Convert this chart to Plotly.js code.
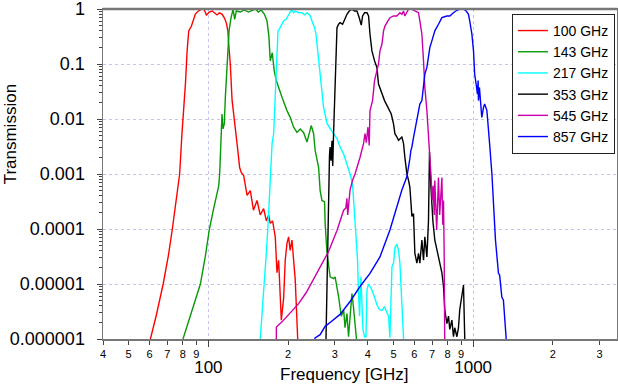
<!DOCTYPE html>
<html>
<head>
<meta charset="utf-8">
<script src="https://cdn.plot.ly/plotly-3.0.1.min.js"></script>
<style>
  html, body { margin: 0; padding: 0; background: #fff; }
  #bands { width: 618px; height: 387px; }
</style>
</head>
<body>
<div id="bands"></div>
<script>
// Planck HFI band transmissions
const f100 = [60.4, 63.6, 67.5, 70.7, 73.1, 75.5, 77.9, 79.4, 80.1, 80.8, 81.9, 83.1, 84.3, 86.3, 89.3, 91.7, 94.7, 96.6, 98.3, 100.9, 103.5, 107.8, 110, 112.6, 114.9, 116.9, 118.5, 119.5, 121, 122.9, 124.3, 125.7, 128.3, 131.3, 133.2, 135.9, 140, 144, 148, 152.7, 157, 161.7, 165.6, 168.9, 171.3, 174.8, 178.9, 181.6, 184.2, 188.6, 192.4, 195.1, 198.1, 200.9, 203.7, 206.9, 210, 212.8, 217.3, 218];
const t100 = [1e-6, 2.7e-6, 1e-5, 3.4e-5, 1e-4, 3.3e-4, 1e-3, 5e-3, 9e-3, 0.0116, 0.043, 0.17, 0.40, 0.49, 0.81, 0.92, 1.0, 0.96, 0.78, 0.88, 0.92, 0.78, 0.85, 0.81, 0.69, 0.56, 0.40, 0.21, 0.1, 0.022, 0.014, 0.01, 3.6e-3, 1.3e-3, 1.06e-3, 9.4e-4, 4.1e-4, 5e-4, 2.2e-4, 3.3e-4, 1.8e-4, 2.35e-4, 1.4e-4, 1.8e-4, 1.27e-4, 1.4e-4, 7.2e-5, 1.6e-5, 2.7e-5, 2.2e-6, 5.5e-6, 2.7e-5, 5.5e-5, 7.2e-5, 4.1e-5, 6.3e-5, 2.5e-5, 1.2e-5, 1.1e-6, 5e-7];

const f143 = [80.2, 85.5, 89.3, 93.3, 97.4, 100.9, 104.4, 107.2, 109.4, 110.3, 111.7, 112.6, 113.6, 114.9, 115.9, 117, 118.3, 119.7, 121.8, 124, 125.7, 127.5, 132, 136.7, 141.6, 146.6, 150.4, 154.4, 158.4, 162.7, 166.5, 169.2, 171.3, 174.3, 177.3, 180.5, 184.2, 189.7, 198.1, 203.7, 209.9, 216.1, 222.2, 228.8, 235.8, 240.5, 244.6, 249.7, 253, 260.8, 264.3, 268.5, 274.7, 276, 280.5, 288.2, 297, 301, 306, 310.3, 317.6, 324.2, 328.2, 333.7, 338.3, 342.8, 348.5, 353.4, 358, 365];
const t143 = [1e-6, 2.7e-6, 5.1e-6, 1e-5, 3.2e-5, 1e-4, 2.2e-4, 4.1e-4, 6.1e-4, 1e-3, 3.5e-3, 0.0123, 6.6e-3, 8.2e-3, 0.0247, 0.065, 0.2, 0.4, 0.695, 0.99, 0.65, 0.92, 0.88, 0.96, 0.88, 0.96, 1.0, 0.88, 0.96, 0.81, 0.606, 0.324, 0.114, 0.16, 0.075, 0.05, 0.036, 0.0248, 0.0142, 0.0107, 0.0071, 0.0057, 0.0066, 0.0057, 0.0038, 0.0054, 0.0076, 0.0054, 0.0027, 0.00132, 5e-4, 3.3e-4, 3.1e-4, 1.27e-4, 3.7e-5, 1.35e-5, 1.25e-5, 1.35e-5, 8.9e-6, 5.9e-6, 2.6e-6, 3.4e-6, 1.6e-6, 2.9e-6, 1.1e-6, 2.2e-6, 6.7e-6, 3.7e-6, 1.6e-6, 7e-7];

const f217 = [157, 161.3, 164.8, 167.7, 169.9, 172.4, 174, 176.4, 178.9, 181.6, 183.2, 185.3, 189.7, 192.4, 196.5, 200, 203.7, 206.9, 209.9, 212.8, 219.2, 225.8, 230.9, 235.8, 239, 242.3, 246.2, 251.8, 254.9, 258.5, 262.4, 266.3, 272.3, 280.5, 288.2, 297, 306, 314.3, 324.2, 333.7, 342.8, 350.3, 355.6, 358, 365.9, 369.1, 372.3, 376.9, 380.2, 383.4, 389, 393.7, 397.2, 402.7, 407.7, 414.7, 423.1, 433, 443, 452.4, 461.6, 469.7, 479.2, 484.9, 493.5, 500.4, 506.4, 515.3, 522.5, 528.8, 538, 545.7, 548];
const t217 = [1e-6, 5.1e-6, 2.7e-5, 1e-4, 3.3e-4, 1e-3, 3.6e-3, 5.3e-3, 0.0216, 0.173, 0.40, 0.43, 0.53, 0.606, 0.65, 0.747, 0.857, 0.99, 0.857, 0.92, 0.857, 0.857, 0.78, 0.857, 0.80, 0.747, 0.606, 0.458, 0.348, 0.173, 0.0867, 0.0433, 0.0162, 0.0083, 0.0066, 0.0054, 0.0044, 0.0031, 0.0023, 0.00155, 1e-3, 6.6e-4, 2.2e-4, 9.3e-5, 2.7e-5, 6.8e-6, 2.6e-6, 1.35e-5, 5.1e-6, 1.5e-6, 1.1e-6, 1.1e-6, 7.8e-6, 1e-5, 9e-6, 7.8e-6, 5.9e-6, 4.2e-6, 3.4e-6, 3.3e-6, 3.9e-6, 3.3e-6, 2.6e-6, 1.05e-6, 2.05e-5, 2.4e-5, 4.6e-5, 5.3e-5, 4.1e-5, 2.4e-5, 5.1e-6, 1.05e-6, 7e-7];

const f353 = [278, 281, 284.4, 286.7, 288.2, 290.5, 293, 294.9, 297, 299.6, 303.3, 306, 310.3, 314.3, 321.3, 328.2, 333.7, 340.4, 348.5, 356.5, 364, 371.3, 377.9, 382.3, 389, 397.2, 402.7, 407.7, 414.7, 424.2, 433, 439.1, 452.4, 462.7, 476.6, 490.5, 500.4, 506.4, 515.3, 522.5, 538, 545.7, 552.3, 562.1, 570, 576.7, 587, 595.2, 602.3, 613, 621.7, 629, 640.3, 649.4, 656.9, 668.7, 678, 684, 692.5, 704.6, 716.4, 739.6, 762, 772.6, 781.3, 795.8, 807, 815.9, 831, 842.7, 852, 868, 880, 889.8, 906.6, 919.3, 929.2, 931];
const t353 = [9e-7, 2.7e-5, 9.5e-4, 2.2e-3, 3.1e-3, 1.75e-3, 4e-3, 1.4e-3, 5.3e-3, 0.0216, 0.173, 0.458, 0.53, 0.565, 0.53, 0.695, 0.80, 0.92, 0.99, 0.92, 0.92, 0.695, 0.51, 0.747, 0.857, 0.857, 0.747, 0.348, 0.173, 0.114, 0.0867, 0.0433, 0.0283, 0.0216, 0.0163, 0.0123, 0.0081, 0.0054, 0.0047, 0.0041, 0.0047, 0.0036, 0.002, 0.001, 7.7e-4, 5.8e-4, 1.7e-4, 1.9e-4, 3.6e-5, 2.4e-5, 3.6e-5, 2.4e-5, 6.3e-5, 2.7e-5, 7.2e-5, 3.1e-5, 1.4e-4, 2.5e-3, 5.8e-4, 1.4e-4, 6.3e-5, 3.1e-5, 1.6e-5, 9e-6, 3.4e-6, 1.9e-6, 2.6e-6, 1.5e-6, 2.2e-6, 1.1e-6, 1.6e-6, 1.1e-6, 1.6e-6, 3.4e-6, 5.9e-6, 9.6e-6, 1.1e-6, 7e-7];

const f545 = [180.6, 180.6, 189.7, 203.7, 219.2, 234.3, 253, 269.3, 284.4, 306, 324.2, 330.3, 333.7, 335.9, 342.8, 350.3, 358, 373.8, 385.5, 390.4, 394.9, 400.5, 405, 407.7, 416.9, 424.2, 433, 439.1, 444.6, 452.4, 458.7, 464.3, 476.6, 484.9, 500.4, 515.3, 528.8, 538, 545.7, 552.3, 570, 587, 602.3, 621.7, 629, 640.3, 649.4, 656.9, 668.7, 678, 686, 692.5, 700.3, 706.5, 712.6, 716.4, 728.2, 734.7, 739.6, 747.3, 754.2, 762, 767.6, 772.6, 777, 780, 781.3];
const t545 = [7e-7, 1.65e-6, 2.05e-6, 3.0e-6, 4.4e-6, 7.0e-6, 1.35e-5, 2.4e-5, 3.9e-5, 9.4e-5, 2.2e-4, 2.4e-4, 3.6e-4, 1.8e-4, 5.1e-4, 7.7e-4, 1e-3, 2e-3, 3.6e-3, 5.4e-3, 3.7e-3, 7.1e-3, 3.3e-3, 0.0142, 0.0216, 0.05, 0.0755, 0.1, 0.173, 0.228, 0.40, 0.49, 0.606, 0.695, 0.747, 0.747, 0.857, 0.80, 0.92, 0.747, 0.99, 0.99, 0.92, 0.857, 0.606, 0.348, 0.114, 0.0375, 0.0142, 0.0054, 0.0023, 1e-3, 3.3e-4, 6.1e-4, 1.8e-4, 7.6e-4, 9.6e-5, 4.1e-4, 8.6e-4, 1.8e-4, 5.1e-4, 8.6e-4, 1.2e-4, 3.3e-4, 4.1e-5, 5.1e-6, 7e-7];

const f857 = [247, 253, 264.3, 276, 288.2, 314.3, 342.8, 373.8, 407.7, 444.6, 484.9, 515.3, 538, 562.1, 570, 576.7, 582, 587, 595.2, 602.3, 612, 621.7, 629, 640.3, 649.4, 656.9, 668.7, 678, 686, 698.5, 716.4, 739.6, 762, 795.8, 815.9, 842.7, 868, 889.8, 919.3, 941, 960, 970.4, 989, 1003, 1013, 1026, 1038, 1044, 1047, 1056, 1069, 1078, 1094, 1105, 1127, 1142, 1154, 1177, 1205, 1214, 1246, 1259, 1283, 1301, 1332, 1335];
const t857 = [7e-7, 1.05e-6, 1.2e-6, 1.7e-6, 2.0e-6, 2.8e-6, 4.8e-6, 9e-6, 1.56e-5, 3.1e-5, 9.6e-5, 2.5e-4, 5.1e-4, 9e-4, 1.55e-3, 1.9e-3, 2.7e-3, 3.1e-3, 4.6e-3, 6.2e-3, 8.6e-3, 0.0123, 0.0187, 0.0216, 0.0375, 0.0655, 0.0867, 0.151, 0.199, 0.263, 0.40, 0.528, 0.695, 0.747, 0.747, 0.857, 0.947, 0.99, 0.99, 0.92, 0.80, 0.606, 0.348, 0.173, 0.0655, 0.0433, 0.0283, 0.05, 0.0216, 0.0375, 0.0142, 0.0107, 0.0163, 0.0187, 0.0142, 0.0071, 0.0035, 1e-3, 9.6e-5, 6.3e-5, 1.56e-5, 1.45e-5, 5.8e-6, 5.1e-6, 1.05e-6, 7e-7];

const bandNames = ['100 GHz', '143 GHz', '217 GHz', '353 GHz', '545 GHz', '857 GHz'];
const bandColors = ['#ff0000', '#079907', '#00ffff', '#000000', '#cc00aa', '#0000ff'];

// tick labels
const xSmallVals = [40, 50, 60, 70, 80, 90, 200, 300, 400, 500, 600, 700, 800, 900, 2000, 3000];
const xSmallText = ['4', '5', '6', '7', '8', '9', '2', '3', '4', '5', '6', '7', '8', '9', '2', '3'];
const xBigVals = [100, 1000];
const xBigText = ['100', '1000'];
const yVals = [1, 0.1, 0.01, 0.001, 0.0001, 0.00001, 0.000001];
const yText = ['1', '0.1', '0.01', '0.001', '0.0001', '0.00001', '0.000001'];

let yMinor = [];
for (let e = -6; e < 0; e++) {
  for (let m = 2; m <= 9; m++) yMinor.push(m * Math.pow(10, e));
}

const FONT = 'Liberation Sans, Arial, Helvetica, sans-serif';
const xRange = [Math.log10(40), Math.log10(3493)];

let series = [[f100, t100], [f143, t143], [f217, t217], [f353, t353], [f545, t545], [f857, t857]];
let data = series.map((s, i) => ({
  x: s[0],
  y: s[1],
  type: 'scatter',
  mode: 'lines',
  name: bandNames[i],
  line: {color: bandColors[i], width: 1.4}
}));
// last band sits on the overlay axis that carries the decade labels
data[5].xaxis = 'x2';

let layout = {
  width: 618,
  height: 387,
  margin: {l: 103, r: 1, t: 9, b: 48},
  paper_bgcolor: '#fff',
  plot_bgcolor: '#fff',
  font: {family: FONT, color: '#000'},
  showlegend: true,
  legend: {
    x: 0.996, xanchor: 'right',
    y: 0.985, yanchor: 'top',
    bgcolor: '#fff',
    bordercolor: '#222',
    borderwidth: 1,
    font: {family: FONT, size: 14, color: '#000'},
    itemwidth: 30,
    tracegroupgap: 0
  },
  xaxis: {
    type: 'log',
    range: xRange,
    tickvals: xSmallVals,
    ticktext: xSmallText,
    tickfont: {size: 11},
    ticks: 'outside',
    ticklen: 4,
    tickcolor: '#444',
    showgrid: false,
    zeroline: false,
    showline: true,
    linecolor: '#777',
    linewidth: 1.5,
    mirror: true
  },
  xaxis2: {
    type: 'log',
    range: xRange,
    overlaying: 'x',
    anchor: 'y',
    side: 'bottom',
    tickvals: xBigVals,
    ticktext: xBigText,
    tickfont: {size: 17},
    ticks: 'outside',
    ticklen: 7,
    tickcolor: '#444',
    ticklabelstandoff: 6,
    showgrid: true,
    gridcolor: '#c4c4f4',
    griddash: 'dot',
    gridwidth: 1,
    zeroline: false,
    showline: false
  },
  yaxis: {
    type: 'log',
    range: [-6, 0],
    tickvals: yVals,
    ticktext: yText,
    tickfont: {size: 18},
    ticks: 'outside',
    ticklen: 5,
    tickcolor: '#444',
    ticklabelstandoff: 8,
    ticklabeloverflow: 'allow',
    showgrid: true,
    gridcolor: '#c4c4f4',
    griddash: 'dot',
    gridwidth: 1,
    zeroline: false,
    showline: true,
    linecolor: '#777',
    linewidth: 1.5,
    mirror: true,
    minor: {
      tickvals: yMinor,
      ticks: 'outside',
      ticklen: 3,
      tickcolor: '#444',
      showgrid: false
    }
  },
  shapes: [{
    type: 'line', xref: 'paper', yref: 'paper',
    x0: 0, x1: 1, y0: 1, y1: 1,
    line: {color: '#777', width: 2.5}
  }],
  annotations: [
    {
      text: 'Transmission', xref: 'paper', yref: 'paper',
      x: -0.181, y: 0.62, xanchor: 'center', yanchor: 'middle',
      textangle: -90, showarrow: false,
      font: {size: 17}
    },
    {
      text: 'Frequency [GHz]', xref: 'paper', yref: 'paper',
      x: 0.469, y: -0.107, xanchor: 'center', yanchor: 'middle',
      showarrow: false,
      font: {size: 17}
    }
  ]
};

Plotly.newPlot('bands', data, layout, {displayModeBar: false, staticPlot: true});
</script>
</body>
</html>
